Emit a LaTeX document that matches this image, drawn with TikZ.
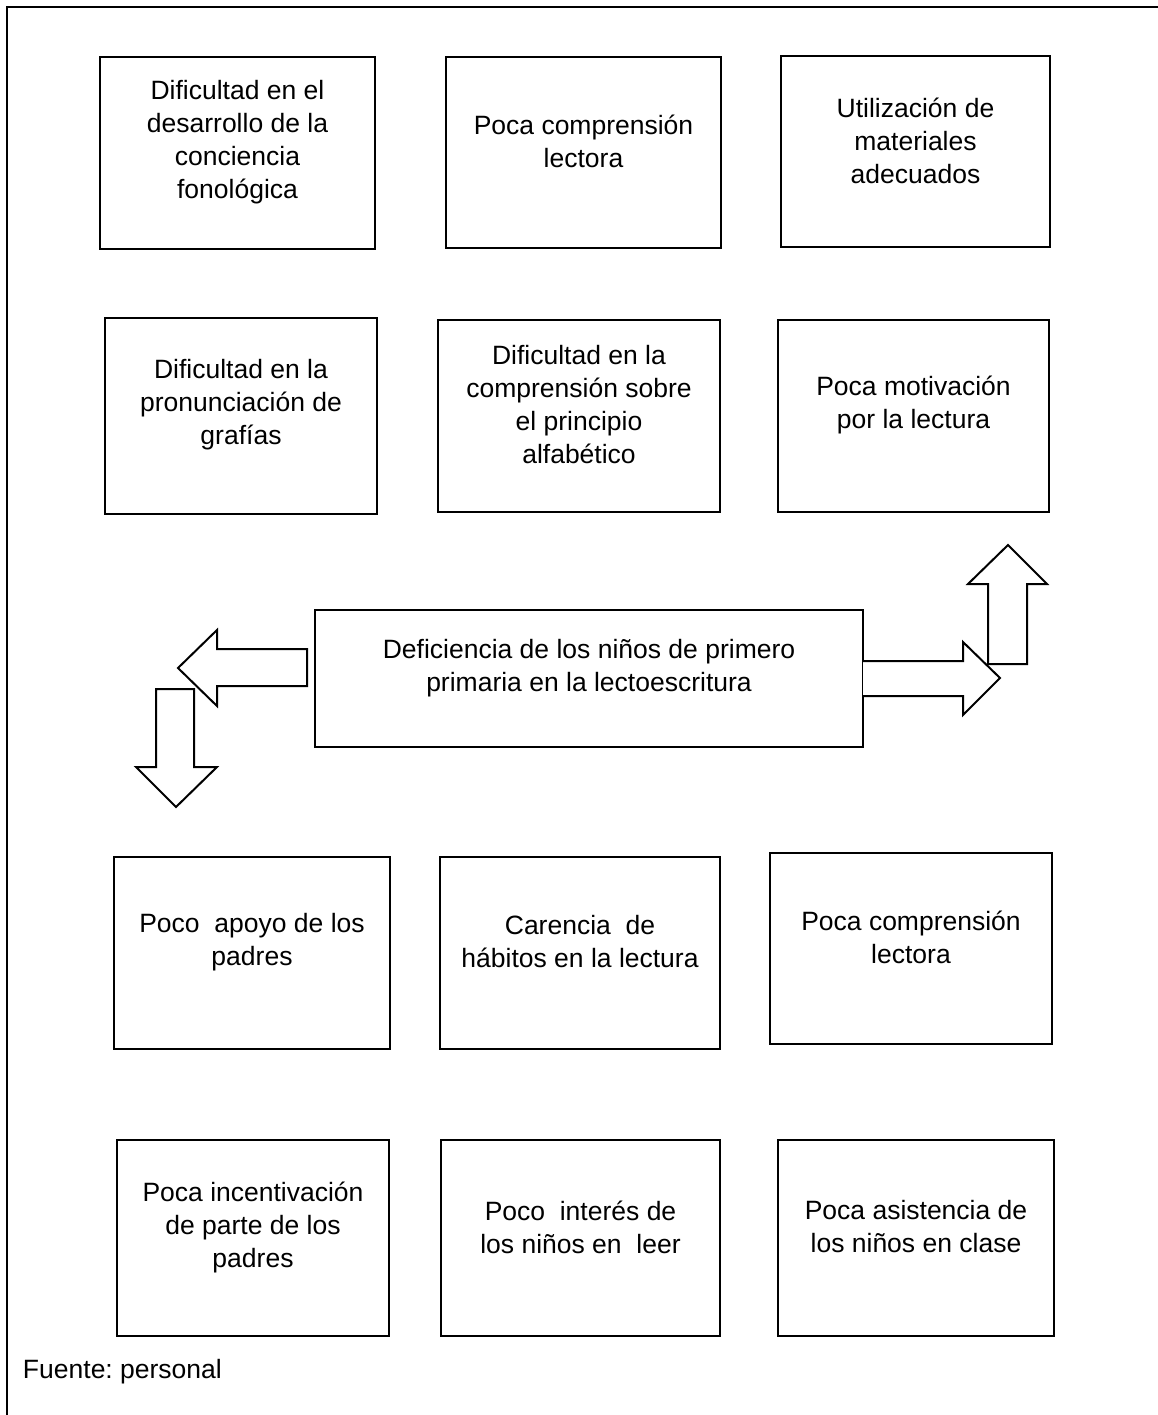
\documentclass[tikz,border=0pt]{standalone}
\usepackage{fontspec}
\setmainfont{Liberation Sans}
\frenchspacing

\begin{document}
\begin{tikzpicture}[x=1pt, y=-1pt, line width=2pt,
  txt/.style={align=center, inner sep=0pt, font=\fontsize{26.5}{33}\selectfont},
  blockarrow/.style={draw, line join=miter, fill=white}]
  \useasboundingbox (0,0) rectangle (1158,1415);
  % outer frame
  \draw (7,1415) -- (7,7) -- (1158,7);

  % first row
  \draw (100,57) rectangle (375,249) node[pos=.5] (a) {};
  \draw (446,57) rectangle (721,248) node[pos=.5] (b) {};
  \draw (781,56) rectangle (1050,247) node[pos=.5] (c) {};
  \node[txt] at ([yshift=11]a) {Dificultad en el\\desarrollo de la\\conciencia\\fonológica};
  \node[txt] at ([yshift=11]b) {Poca comprensión\\lectora};
  \node[txt] at ([yshift=11]c) {Utilización de\\materiales\\adecuados};

  % second row
  \draw (105,318) rectangle (377,514) node[pos=.5] (d) {};
  \draw (438,320) rectangle (720,512) node[pos=.5] (e) {};
  \draw (778,320) rectangle (1049,512) node[pos=.5] (f) {};
  \node[txt] at ([yshift=11]d) {Dificultad en la\\pronunciación de\\grafías};
  \node[txt] at ([yshift=11]e) {Dificultad en la\\comprensión sobre\\el principio\\alfabético};
  \node[txt] at ([yshift=11]f) {Poca motivación\\por la lectura};

  % central problem
  \draw (315,610) rectangle (863,747) node[pos=.5] (m) {};
  \node[txt] at ([yshift=10]m) {Deficiencia de los niños de primero\\primaria en la lectoescritura};

  % block arrows
  \draw[blockarrow] (307,649) -- (217,649) -- (217,630) -- (178,668) -- (217,706)
    -- (217,686) -- (307,686) -- cycle;
  \draw[blockarrow] (156,689) -- (194,689) -- (194,767) -- (217,767) -- (176,807)
    -- (136,767) -- (156,767) -- cycle;
  \draw[blockarrow] (863,661) -- (963,661) -- (963,642) -- (1000,678) -- (963,715)
    -- (963,696) -- (863,696);
  \draw[blockarrow] (988,664) -- (988,584) -- (968,584) -- (1008,545) -- (1047,584)
    -- (1027,584) -- (1027,664) -- cycle;

  % third row
  \draw (114,857) rectangle (390,1049) node[pos=.5] (g) {};
  \draw (440,857) rectangle (720,1049) node[pos=.5] (h) {};
  \draw (770,853) rectangle (1052,1044) node[pos=.5] (i) {};
  \node[txt] at ([yshift=11]g) {Poco~ apoyo de los\\padres};
  \node[txt] at ([yshift=11]h) {Carencia~ de\\hábitos en la lectura};
  \node[txt] at ([yshift=11]i) {Poca comprensión\\lectora};

  % fourth row
  \draw (117,1140) rectangle (389,1336) node[pos=.5] (j) {};
  \draw (441,1140) rectangle (720,1336) node[pos=.5] (k) {};
  \draw (778,1140) rectangle (1054,1336) node[pos=.5] (l) {};
  \node[txt] at ([yshift=11]j) {Poca incentivación\\de parte de los\\padres};
  \node[txt] at ([yshift=11]k) {Poco~ interés de\\los niños en~ leer};
  \node[txt] at ([yshift=11]l) {Poca asistencia de\\los niños en clase};

  \node[txt, anchor=base west] (src) at (22,1378) {Fuente: personal};
\end{tikzpicture}
\end{document}
